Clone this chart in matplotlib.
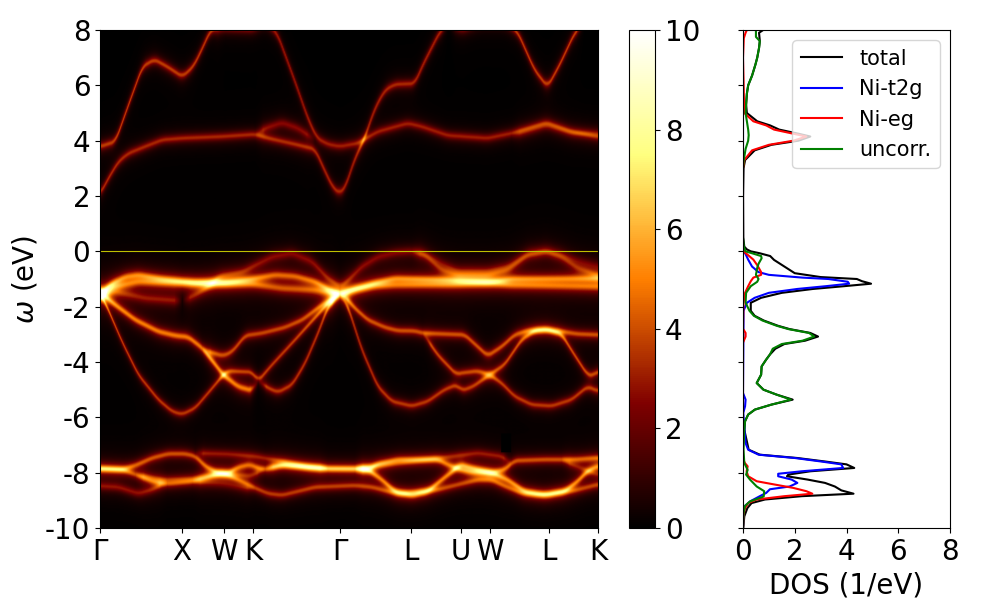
import numpy as np
import matplotlib
matplotlib.use("Agg")
import matplotlib.pyplot as plt

plt.rcParams['axes.unicode_minus'] = False
plt.rcParams['font.size'] = 20

# k path
k_ticks = [0, 82, 124, 153, 240, 311, 361, 390, 449, 498]
k_labels = ['Γ', 'X', 'W', 'K', 'Γ', 'L', 'U', 'W', 'L', 'K']

# bands, k and energy in eV
c1_k = [0, 15, 28, 42, 54, 67, 82, 93, 102, 110, 125]
c1_w = [3.8, 3.98, 5.3, 6.69, 6.95, 6.69, 6.33, 6.69, 7.35, 8.0, 8.3]
c2_k = [110, 153, 165, 177, 195, 208, 217, 228, 240, 258, 278, 308, 322, 348, 388, 412, 447, 472, 498]
c2_w = [8.1, 8.05, 8.3, 7.9, 6.14, 4.8, 4.1, 3.88, 3.8, 3.92, 4.34, 4.64, 4.52, 4.2, 4.1, 4.28, 4.66, 4.34, 4.16]
c3_k = [0, 8, 18, 28, 45, 62, 82, 122, 155, 168, 195, 215, 225, 233, 240, 245, 255, 264, 275, 285, 295, 315, 323, 340, 350]
c3_w = [2.1, 2.65, 3.25, 3.55, 3.8, 4.04, 4.1, 4.16, 4.24, 4.1, 3.88, 3.7, 2.9, 2.3, 2.1, 2.29, 3.37, 4.04, 5.18, 5.84, 6.05, 6.08, 6.75, 7.95, 8.3]
c4_k = [155, 165, 182, 198, 215]
c4_w = [4.24, 4.46, 4.66, 4.46, 4.04]
c5_k = [348, 362, 380, 405, 418, 435, 448, 460, 475, 485]
c5_w = [8.3, 8.05, 8.3, 8.3, 7.95, 6.57, 5.96, 6.75, 7.9, 8.3]
c6_k = [412, 447, 472, 498]
c6_w = [4.18, 4.55, 4.28, 4.28]

v1_k = [0, 12, 25, 38, 62, 95, 125, 152, 175, 195, 215, 232, 240, 255, 275, 295, 350, 388, 412, 498]
v1_w = [-1.55, -1.16, -0.92, -0.85, -1.0, -1.13, -1.13, -1.0, -0.85, -0.9, -1.1, -1.45, -1.55, -1.37, -1.15, -0.98, -1.03, -1.12, -1.0, -0.98]
v2_k = [0, 12, 38, 95, 152, 182, 215, 240, 255, 275, 295, 350, 388, 412, 498]
v2_w = [-1.55, -1.3, -1.1, -1.16, -1.18, -1.34, -1.4, -1.55, -1.37, -1.24, -1.22, -1.2, -1.12, -1.22, -1.28]
v3_k = [0, 15, 45, 82]
v3_w = [-1.55, -1.46, -1.7, -1.8]
v4_k = [82, 95, 108, 120, 142, 155, 172, 192, 212, 228, 240, 245, 262, 278, 295, 312, 325, 342, 358, 388, 408, 428, 447, 462, 478, 498]
v4_w = [-1.8, -1.58, -1.28, -0.9, -0.75, -0.5, -0.2, -0.07, -0.37, -0.98, -1.28, -1.16, -0.55, -0.2, -0.05, 0.0, -0.13, -0.67, -0.86, -0.86, -0.67, -0.13, 0.0, -0.2, -0.6, -0.86]
v5_k = [312, 325, 345, 358, 388, 408, 428, 447, 462, 480, 498]
v5_w = [0.0, -0.1, -0.5, -0.72, -0.72, -0.55, -0.1, 0.0, -0.13, -0.38, -0.55]
v6_k = [0, 3, 15, 35, 58, 75, 88, 102, 115, 123, 138, 152, 158]
v6_w = [-1.5, -1.58, -1.94, -2.48, -2.9, -3.05, -3.1, -3.5, -4.1, -4.47, -4.9, -5.04, -4.69]
v7_k = [102, 108, 123, 132, 145, 162, 185, 202, 222, 240]
v7_w = [-3.5, -3.63, -3.78, -3.63, -3.05, -2.96, -2.75, -2.48, -1.94, -1.55]
v8_k = [0, 5, 22, 38, 58, 72, 82, 95, 112, 123, 128, 152, 158, 172, 195, 215, 228, 240]
v8_w = [-1.55, -1.88, -3.3, -4.47, -5.37, -5.8, -5.9, -5.67, -4.95, -4.47, -4.33, -4.37, -4.69, -4.1, -3.2, -2.4, -1.88, -1.55]
v9_k = [158, 168, 178, 192, 205, 218, 228, 240]
v9_w = [-4.69, -4.95, -5.1, -4.83, -4.05, -2.96, -2.0, -1.55]

w1_k = [240, 245, 255, 268, 285, 298, 315, 323, 365, 378, 388, 402, 415, 428, 445, 462, 478, 498]
w1_w = [-1.55, -1.64, -2.06, -2.48, -2.75, -2.87, -2.88, -2.96, -3.02, -3.45, -3.78, -3.45, -3.02, -2.87, -2.84, -2.9, -2.99, -3.02]
w2_k = [323, 338, 357, 358, 378, 390, 405, 422, 435, 448, 462, 475, 488, 493, 498]
w2_w = [-2.96, -3.75, -4.47, -4.42, -4.33, -4.47, -4.1, -3.2, -2.87, -2.82, -3.0, -3.75, -4.47, -4.5, -4.35]
w3_k = [240, 248, 262, 278, 292, 312, 328, 345, 357, 362, 373, 390, 402, 415, 432, 452, 472, 488, 498]
w3_w = [-1.55, -2.0, -3.57, -4.9, -5.43, -5.6, -5.43, -5.0, -4.83, -5.04, -4.9, -4.47, -4.77, -5.25, -5.55, -5.6, -5.37, -4.9, -5.05]

l1_k = [0, 22, 35, 52, 68, 85, 95, 105, 117, 127, 138, 150, 157, 165, 182, 208, 228, 255, 268, 278, 298, 338, 348, 360, 372, 392, 405, 415, 445, 475, 498]
l1_w = [-7.87, -7.9, -7.75, -7.48, -7.33, -7.33, -7.42, -7.78, -8.02, -8.06, -7.82, -7.72, -7.84, -7.9, -7.75, -7.8, -7.87, -7.88, -7.9, -7.7, -7.54, -7.54, -7.72, -7.9, -8.0, -8.02, -7.9, -7.58, -7.54, -7.54, -7.48]
l2_k = [95, 128, 155, 182, 208, 228, 255, 345, 378, 402, 412]
l2_w = [-7.3, -7.34, -7.42, -7.6, -7.82, -7.87, -7.87, -7.46, -7.3, -7.42, -7.66]
l3_k = [0, 22, 35, 52, 67, 92, 108, 123, 138, 155, 168, 182, 198, 215, 255, 272, 288, 300, 338, 358, 378, 392, 405, 422, 440, 475, 498]
l3_w = [-7.87, -7.9, -8.08, -8.33, -8.42, -8.33, -8.18, -8.02, -8.27, -8.57, -8.77, -8.83, -8.69, -8.54, -8.48, -8.54, -8.69, -8.78, -8.63, -8.45, -8.27, -8.27, -8.5, -8.75, -8.82, -8.66, -8.45]
l4_k = [0, 18, 38, 52, 62, 67]
l4_w = [-8.5, -8.54, -8.77, -8.63, -8.42, -8.42]
l5_k = [92, 125, 145, 155]
l5_w = [-8.33, -8.42, -8.57, -8.57]
l6_k = [35, 62, 95, 115, 127, 150, 160, 165]
l6_w = [-8.08, -8.27, -8.23, -8.06, -8.06, -8.14, -7.97, -7.84]
l7_k = [255, 268, 282, 295, 312, 328, 342, 355, 360, 372, 392, 408, 425, 447, 465, 478, 488, 498]
l7_w = [-7.88, -7.9, -8.27, -8.69, -8.84, -8.69, -8.27, -7.9, -7.72, -7.84, -8.02, -8.27, -8.69, -8.83, -8.69, -8.33, -7.96, -7.78]
l8_k = [165, 182, 208, 228]
l8_w = [-7.84, -7.72, -7.82, -7.87]
l9_k = [462, 472, 498]
l9_w = [-7.54, -7.72, -8.08]

# k, energy, peak height, half width
bands = [
    (c1_k, c1_w, 3.7, 0.13), (c2_k, c2_w, 3.1, 0.13), (c3_k, c3_w, 3.3, 0.13),
    (c4_k, c4_w, 2.5, 0.15), (c5_k, c5_w, 3.7, 0.13), (c6_k, c6_w, 1.5, 0.14),
    (v1_k, v1_w, 4.0, 0.15), (v2_k, v2_w, 3.8, 0.17), (v3_k, v3_w, 2.5, 0.17),
    (v4_k, v4_w, 2.4, 0.16), (v5_k, v5_w, 1.5, 0.16), (v6_k, v6_w, 4.8, 0.14),
    (v7_k, v7_w, 3.8, 0.13), (v8_k, v8_w, 3.6, 0.11), (v9_k, v9_w, 3.6, 0.12),
    (w1_k, w1_w, 4.0, 0.13), (w2_k, w2_w, 3.8, 0.12), (w3_k, w3_w, 3.6, 0.12),
    (l1_k, l1_w, 4.0, 0.13), (l2_k, l2_w, 2.6, 0.13), (l3_k, l3_w, 3.5, 0.13),
    (l4_k, l4_w, 2.6, 0.14), (l5_k, l5_w, 1.7, 0.14), (l6_k, l6_w, 2.3, 0.13),
    (l7_k, l7_w, 4.4, 0.13), (l8_k, l8_w, 2.3, 0.13), (l9_k, l9_w, 2.0, 0.13),
]

# dos curves
total_w = [8, 7.9, 7.6, 7.35, 7, 6.75, 6.35, 6, 5.7, 5.3, 5, 4.7, 4.55, 4.4, 4.25, 4.15, 4, 3.85, 3.65, 3.3, 3, 2, 0.5, 0.17, 0.07, 0, -0.07, -0.17, -0.31, -0.55, -0.79, -0.93, -1.0, -1.08, -1.17, -1.26, -1.36, -1.5, -1.68, -1.86, -2.15, -2.33, -2.5, -2.69, -2.81, -2.95, -3.08, -3.23, -3.35, -3.52, -3.73, -3.92, -4.16, -4.46, -4.76, -5, -5.18, -5.36, -5.54, -5.72, -5.9, -6.14, -6.45, -7.17, -7.35, -7.47, -7.6, -7.7, -7.83, -7.95, -8.07, -8.13, -8.25, -8.37, -8.5, -8.64, -8.76, -8.85, -8.97, -9.1, -9.28, -9.58, -10]
total_d = [0.78, 0.62, 0.65, 0.62, 0.55, 0.48, 0.35, 0.2, 0.15, 0.12, 0.15, 0.55, 1.05, 1.4, 2.15, 2.6, 2.15, 1.1, 0.45, 0.08, 0.02, 0.0, 0.01, 0.05, 0.15, 0.3, 0.65, 1.05, 1.2, 1.6, 2.0, 3.0, 4.4, 4.6, 4.95, 3.9, 2.7, 1.5, 0.7, 0.3, 0.3, 0.45, 0.8, 1.35, 1.8, 2.6, 2.9, 2.4, 1.6, 1.25, 1.04, 0.89, 0.72, 0.7, 0.53, 0.79, 1.3, 1.92, 1.1, 0.46, 0.2, 0.08, 0.05, 0.22, 0.65, 2.1, 3.2, 4.0, 4.3, 2.6, 1.75, 1.7, 2.5, 3.17, 3.55, 3.8, 4.27, 2.27, 0.85, 0.33, 0.17, 0.05, 0.01]
t2g_w = [8, 5, 0.1, 0, -0.1, -0.3, -0.55, -0.75, -0.85, -0.95, -1.0, -1.1, -1.17, -1.26, -1.36, -1.5, -1.68, -1.86, -2.15, -2.5, -5.12, -5.36, -5.6, -5.84, -6.93, -7.17, -7.35, -7.47, -7.6, -7.7, -7.83, -7.95, -8.04, -8.13, -8.25, -8.37, -8.5, -8.6, -8.73, -8.85, -9.04, -9.2, -9.5, -10]
t2g_d = [0.0, 0.0, 0.0, 0.02, 0.1, 0.2, 0.35, 0.6, 1.0, 2.3, 3.3, 4.05, 4.1, 3.2, 2.1, 1.0, 0.45, 0.15, 0.02, 0.02, 0.0, 0.1, 0.08, 0.01, 0.1, 0.2, 0.6, 2.0, 3.05, 3.8, 3.87, 2.27, 1.36, 1.36, 1.88, 2.1, 1.8, 1.04, 0.9, 0.65, 0.27, 0.08, 0.02, 0.0]
eg_w = [8, 7.9, 7.7, 7, 5, 4.7, 4.55, 4.4, 4.25, 4.15, 4, 3.85, 3.65, 3.3, 3, 0.1, 0, -0.1, -0.3, -0.5, -0.75, -0.85, -0.95, -1.08, -1.26, -1.36, -1.5, -1.86, -2.8, -2.95, -3.08, -3.3, -7.5, -7.65, -7.77, -7.95, -8.13, -8.31, -8.43, -8.55, -8.67, -8.76, -8.85, -8.97, -9.1, -9.28, -9.5, -10]
eg_d = [0.15, 0.1, 0.03, 0.0, 0.05, 0.4, 0.9, 1.2, 1.95, 2.45, 1.95, 1.0, 0.35, 0.05, 0.0, 0.0, 0.02, 0.15, 0.4, 0.55, 0.7, 0.7, 0.4, 0.3, 0.2, 0.15, 0.08, 0.02, 0.0, 0.1, 0.1, 0.0, 0.0, 0.07, 0.18, 0.14, 0.2, 0.53, 1.23, 1.94, 2.45, 2.68, 1.6, 0.53, 0.2, 0.08, 0.02, 0.0]
uncorr_w = [8, 7.9, 7.75, 7.6, 7.35, 7, 6.75, 6.35, 6, 5.7, 5.3, 5, 4.7, 4.4, 4.2, 4, 3.7, 3.3, 3, 0.5, 0.17, 0, -0.07, -0.17, -0.25, -0.45, -0.6, -0.85, -1.0, -1.1, -1.26, -1.5, -1.86, -2.15, -2.33, -2.5, -2.69, -2.81, -2.95, -3.08, -3.23, -3.35, -3.52, -3.73, -3.92, -4.16, -4.46, -4.76, -5, -5.18, -5.36, -5.54, -5.72, -5.9, -6.14, -6.45, -7.17, -7.65, -7.9, -8.07, -8.25, -8.5, -8.67, -8.86, -9.04, -9.2, -9.46, -10]
uncorr_d = [0.5, 0.5, 0.5, 0.65, 0.62, 0.55, 0.48, 0.35, 0.2, 0.15, 0.12, 0.1, 0.15, 0.2, 0.22, 0.2, 0.1, 0.03, 0.0, 0.0, 0.03, 0.1, 0.35, 0.7, 0.72, 0.6, 0.55, 0.5, 0.6, 0.55, 0.3, 0.12, 0.1, 0.25, 0.42, 0.75, 1.3, 1.75, 2.55, 2.75, 2.3, 1.5, 1.15, 1.04, 0.89, 0.72, 0.7, 0.53, 0.79, 1.3, 1.85, 1.1, 0.46, 0.2, 0.08, 0.05, 0.02, 0.05, 0.18, 0.12, 0.27, 0.53, 0.82, 0.8, 0.27, 0.08, 0.02, 0.0]

# the spectrum is every band above broadened by a lorentzian
k_grid = np.arange(0, 499)
w_grid = np.linspace(-10, 8, 500)
spectrum = np.zeros((len(w_grid), len(k_grid)))
box = np.ones(9) / 9
for k, w, height, gamma in bands:
    # round off the corners between the read points
    fine_k = np.arange(k[0], k[-1] + 1)
    centre = np.convolve(np.pad(np.interp(fine_k, k, w), 4, mode='edge'), box, mode='valid')
    line = height * gamma**2 / ((w_grid[:, None] - centre)**2 + gamma**2)
    # fade bands that stop inside the path, so they leave no seam
    fade = np.ones(len(fine_k))
    if k[0] > 0:
        fade = np.minimum(fade, (fine_k - k[0]) / 8)
    if k[-1] < k_grid[-1]:
        fade = np.minimum(fade, (k[-1] - fine_k) / 8)
    spectrum[:, fine_k] += line * fade

# black patch in the original map
spectrum[(w_grid > -7.26) & (w_grid < -6.58), 402:412] = 0

fig = plt.figure(figsize=(10, 6), dpi=100)
ax = fig.add_axes([0.1, 0.12, 0.498, 0.83])
im = ax.imshow(spectrum, origin='lower', aspect='auto', extent=[0, 498, -10, 8],
               cmap='afmhot', vmin=0, vmax=10, interpolation='bilinear')
ax.axhline(0, color='y', lw=0.8)
ax.set_xticks(k_ticks)
ax.set_xticklabels(k_labels)
ax.set_yticks(range(-10, 9, 2))
ax.set_ylabel(r'$\omega$ (eV)')

cax = fig.add_axes([0.629, 0.12, 0.026, 0.83])
fig.colorbar(im, cax=cax, ticks=[0, 2, 4, 6, 8, 10])

ax2 = fig.add_axes([0.743, 0.12, 0.207, 0.83])
ax2.plot(total_d, total_w, color='k', lw=1.5, label='total')
ax2.plot(t2g_d, t2g_w, color='b', lw=1.5, label='Ni-t2g')
ax2.plot(eg_d, eg_w, color='r', lw=1.5, label='Ni-eg')
ax2.plot(uncorr_d, uncorr_w, color='g', lw=1.5, label='uncorr.')
ax2.set_xlim(0, 8)
ax2.set_ylim(-10, 8)
ax2.set_xticks([0, 2, 4, 6, 8])
ax2.set_yticks(range(-10, 9, 2))
ax2.set_yticklabels([])
ax2.set_xlabel('DOS (1/eV)')
ax2.legend(loc='upper right', fontsize=15)

fig.savefig('out.png', dpi=100)
